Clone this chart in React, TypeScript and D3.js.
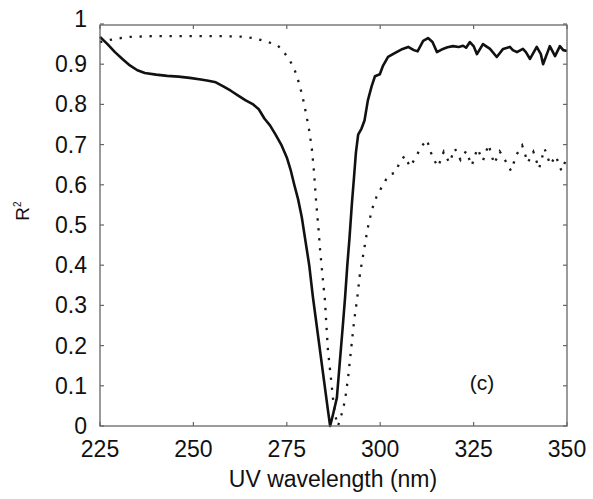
import React from "react";
import * as d3 from "d3";

const W = 593;
const H = 499;

const xTicks = [225, 250, 275, 300, 325, 350];
const yTicks = [0, 0.1, 0.2, 0.3, 0.4, 0.5, 0.6, 0.7, 0.8, 0.9, 1];

const solidNm = [
  225, 227, 229, 231, 233, 235, 237, 240, 243, 246, 249, 252, 254, 256, 258, 260, 262, 264, 266, 267.5,
  269, 270.5, 272, 273.5, 275, 276, 277, 278, 279, 280, 281, 282, 283, 284, 285, 286, 286.6, 287.4,
  288.4, 289.2, 290, 290.6, 291.2, 291.8, 292.4, 293, 293.5, 294.1, 295, 295.8, 296.7, 297.7, 298.6,
  299.9, 300.7, 302.1, 304, 306, 307.5, 309, 310, 311.5, 312.8, 314, 315.2, 316.8, 318, 319.5, 321,
  322.2, 323, 324, 325, 325.9, 327.5, 329.4, 331.2, 332.9, 334.7, 335.5, 336.6, 338.2, 339, 340.1,
  341.9, 343, 343.6, 345.4, 346.8, 348.1, 349, 350,
];
const solidR2 = [
  0.968, 0.95, 0.93, 0.913, 0.897, 0.885, 0.878, 0.874, 0.871, 0.869, 0.866, 0.862, 0.859, 0.855, 0.845,
  0.834, 0.822, 0.81, 0.8, 0.788, 0.765, 0.748, 0.725, 0.7, 0.668, 0.638, 0.6, 0.565, 0.52, 0.46, 0.4,
  0.32, 0.25, 0.18, 0.11, 0.04, 0.0, 0.03, 0.07, 0.16, 0.25, 0.32, 0.4, 0.47, 0.55, 0.62, 0.68, 0.725,
  0.74, 0.76, 0.81, 0.845, 0.87, 0.875, 0.895, 0.918, 0.928, 0.938, 0.943, 0.935, 0.932, 0.958, 0.965,
  0.955, 0.93, 0.938, 0.942, 0.945, 0.943, 0.946, 0.941, 0.955, 0.945, 0.925, 0.95, 0.938, 0.918, 0.938,
  0.943, 0.935, 0.93, 0.938, 0.93, 0.913, 0.943, 0.925, 0.9, 0.945, 0.92, 0.945, 0.935, 0.933,
];

const dottedNm = [
  225, 229, 233, 240, 250, 258, 264, 267, 270, 272.4, 274, 275.9, 277.2, 278.2, 279.2, 280.2, 281, 281.7,
  282.3, 282.8, 283.4, 283.9, 284.6, 285.2, 285.6, 286, 286.8, 287.4, 288, 288.7, 289.2, 290, 290.6,
  291.4, 292.2, 293, 293.8, 294.6, 295.7, 296.6, 297.8, 299, 300.5, 301.5, 302.6, 304, 305, 306.5, 308,
  309.5, 311, 312.5, 314, 315.5, 317, 318.5, 320, 321.5, 323, 324.5, 326, 327.5, 329, 330.5, 332, 333.5,
  335, 336.5, 338, 339.5, 341, 342.5, 344, 345.5, 347, 348.5, 350,
];
const dottedR2 = [
  0.955, 0.963, 0.968, 0.97, 0.97, 0.97, 0.968, 0.963, 0.955, 0.948, 0.933, 0.908, 0.883, 0.855, 0.82,
  0.775, 0.735, 0.69, 0.63, 0.564, 0.5, 0.439, 0.37, 0.314, 0.25, 0.19, 0.12, 0.065, 0.025, 0.0, 0.015,
  0.04, 0.065, 0.12, 0.19, 0.26, 0.314, 0.38, 0.439, 0.49, 0.539, 0.57, 0.596, 0.612, 0.626, 0.63,
  0.651, 0.672, 0.645, 0.668, 0.695, 0.712, 0.668, 0.645, 0.682, 0.655, 0.69, 0.662, 0.684, 0.648, 0.69,
  0.66, 0.7, 0.652, 0.683, 0.66, 0.635, 0.675, 0.698, 0.655, 0.682, 0.64, 0.69, 0.65, 0.672, 0.635, 0.668,
];

const FONT = "'Liberation Sans', Arial, sans-serif";

export default function App() {
  const left = 100;
  const right = 567;
  const top = 24;
  const bottom = 426;

  const x = d3.scaleLinear().domain([225, 350]).range([left, right]);
  const y = d3.scaleLinear().domain([0, 1]).range([bottom, top]);

  const line = d3
    .line<[number, number]>()
    .x((d) => x(d[0]))
    .y((d) => y(d[1]));

  const solidPts = solidNm.map((n, i) => [n, solidR2[i]] as [number, number]);
  const dottedPts = dottedNm.map((n, i) => [n, dottedR2[i]] as [number, number]);

  const tickLen = 4;
  const axisColor = "#666";

  return (
    <svg
      width={W}
      height={H}
      style={{ position: "absolute", left: 0, top: 0, background: "#fff" }}
    >
      <rect x={0} y={0} width={W} height={H} fill="#fff" />
      <path
        d={line(dottedPts) || ""}
        fill="none"
        stroke="#1a1a1a"
        strokeWidth={2.3}
        strokeDasharray="2.3 7.7"
      />
      <path
        d={line(solidPts) || ""}
        fill="none"
        stroke="#111"
        strokeWidth={2.6}
        strokeLinejoin="round"
      />
      <rect
        x={left}
        y={25}
        width={right - left}
        height={bottom - 25}
        fill="none"
        stroke={axisColor}
        strokeWidth={1.3}
      />
      {xTicks.map((t) => (
        <g key={"x" + t}>
          <line x1={x(t)} x2={x(t)} y1={bottom} y2={bottom - tickLen} stroke={axisColor} strokeWidth={1.2} />
          <line x1={x(t)} x2={x(t)} y1={25} y2={25 + tickLen} stroke={axisColor} strokeWidth={1.2} />
          <text x={x(t)} y={457} textAnchor="middle" fontFamily={FONT} fontSize={23} fill="#111">
            {t}
          </text>
        </g>
      ))}
      {yTicks.map((t) => (
        <g key={"y" + t}>
          <line x1={left} x2={left + tickLen} y1={y(t)} y2={y(t)} stroke={axisColor} strokeWidth={1.2} />
          <line x1={right} x2={right - tickLen} y1={y(t)} y2={y(t)} stroke={axisColor} strokeWidth={1.2} />
          <text
            x={87}
            y={y(t) + (t === 1 ? -5 : 0)}
            dy="0.35em"
            textAnchor="end"
            fontFamily={FONT}
            fontSize={23}
            fill="#111"
          >
            {d3.format("")(+t.toFixed(1))}
          </text>
        </g>
      ))}
      <text x={333} y={487} textAnchor="middle" fontFamily={FONT} fontSize={23} fill="#111">
        UV wavelength (nm)
      </text>
      <text
        transform="translate(29,211) rotate(-90)"
        textAnchor="middle"
        fontFamily={FONT}
        fontSize={19}
        fill="#111"
      >
        R<tspan fontSize={10} dy={-8}>2</tspan>
      </text>
      <text x={482} y={390} textAnchor="middle" fontFamily={FONT} fontSize={21} fill="#111">
        (c)
      </text>
    </svg>
  );
}
